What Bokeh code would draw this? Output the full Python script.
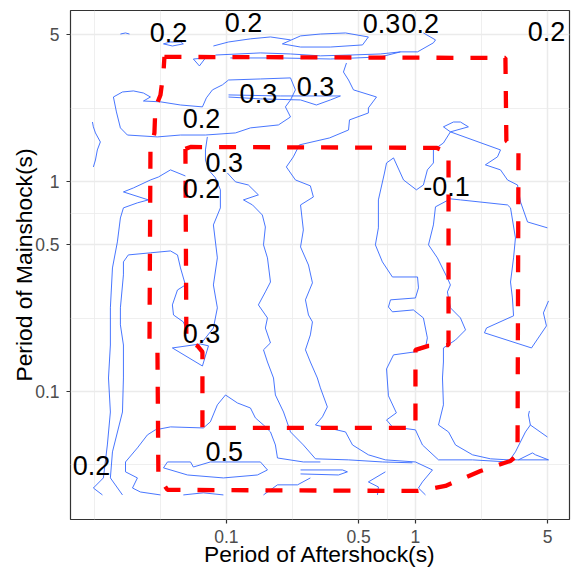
import numpy as np
from bokeh.plotting import figure
from bokeh.models import Range1d, FixedTicker, CustomJSTickFormatter
from bokeh.embed import file_html
from bokeh.resources import INLINE
from bokeh.core.properties import value

# ---------------- axis set-up (log10 of period, s) ----------------
x_lim_log = (-1.825, 0.815)
y_lim_log = (-1.610, 0.814)
tick_values = [0.1, 0.5, 1, 5]

# ---------------- contour lines (log10 T_aftershock, log10 T_mainshock) ----------------
k01_x = [-1.561, -1.534, -1.513]
k01_y = [0.702, 0.707, 0.702]
k02_x = [-1.333, -1.296, -1.243, -1.228, -1.286, -1.333]
k02_y = [0.655, 0.664, 0.664, 0.655, 0.645, 0.655]
k03_x = [-1.175, -1.111, -1.143, -1.175]
k03_y = [0.583, 0.588, 0.550, 0.583]
k04_x = [-1.069, -0.989, -0.873, -0.767, -0.661]
k04_y = [0.645, 0.664, 0.679, 0.688, 0.674]
k05_x = [-0.704, -0.608, -0.503, -0.370, -0.249, -0.280, -0.450, -0.608, -0.704]
k05_y = [0.655, 0.693, 0.702, 0.707, 0.688, 0.650, 0.640, 0.640, 0.655]
k06_x = [-1.058, -0.820, -0.661, -0.503, -0.344, -0.185, -0.079, 0.011, 0.095, 0.106, 0.042]
k06_y = [0.602, 0.612, 0.607, 0.598, 0.602, 0.607, 0.617, 0.617, 0.660, 0.674, 0.707]
k07_x = [-0.979, -0.714, -0.450, -0.185, -0.079]
k07_y = [0.588, 0.588, 0.583, 0.593, 0.617]
k08_x = [-1.598, -1.550, -1.492, -1.439, -1.402, -1.439, -1.349, -1.243, -1.127, -1.106,
         -1.074, -1.021, -0.989, -0.820, -0.661, -0.635, -0.661, -0.688, -0.661, -0.725,
         -0.873, -0.952, -1.111, -1.243, -1.365, -1.524, -1.561, -1.582, -1.598]
k08_y = [0.402, 0.426, 0.431, 0.421, 0.402, 0.383, 0.379, 0.364, 0.355, 0.398,
         0.436, 0.460, 0.483, 0.488, 0.493, 0.436, 0.388, 0.355, 0.307, 0.269,
         0.255, 0.231, 0.221, 0.221, 0.212, 0.221, 0.255, 0.331, 0.402]
k09_x = [-0.989, -0.714, -0.397, -0.450, -0.524, -0.608, -0.820, -0.989]
k09_y = [0.412, 0.407, 0.407, 0.388, 0.364, 0.388, 0.393, 0.402]
k10_x = [-0.365, -0.381, -0.354, -0.328, -0.206, -0.249, -0.249, -0.349, -0.354, -0.455,
         -0.614, -0.646, -0.683, -0.635, -0.556, -0.540, -0.608, -0.593, -0.608, -0.566,
         -0.545, -0.582, -0.566, -0.545, -0.556, -0.582, -0.556, -0.519, -0.503, -0.466,
         -0.492, -0.529, -0.370, -0.333, -0.249, -0.159, 0.000, 0.090, 0.037, 0.016, 0.053]
k10_y = [0.564, 0.521, 0.483, 0.436, 0.402, 0.350, 0.326, 0.293, 0.245, 0.207,
         0.174, 0.117, 0.069, 0.007, -0.021, -0.074, -0.112, -0.231, -0.312, -0.398,
         -0.483, -0.564, -0.636, -0.669, -0.731, -0.802, -0.860, -0.936, -0.983, -1.074,
         -1.121, -1.160, -1.193, -1.255, -1.302, -1.326, -1.336, -1.374, -1.431, -1.460, -1.493]
k11_x = [-0.995, -0.952, -0.884, -0.831, -0.910, -0.862, -0.810, -0.794, -0.804, -0.783,
         -0.767, -0.794, -0.831, -0.783, -0.794, -0.767, -0.804, -0.783, -0.751, -0.741,
         -0.698, -0.661, -0.593, -0.529, -0.354, -0.175, -0.016]
k11_y = [0.040, -0.002, -0.017, -0.064, -0.088, -0.112, -0.160, -0.217, -0.302, -0.364,
         -0.479, -0.526, -0.588, -0.650, -0.698, -0.769, -0.802, -0.860, -0.936, -1.017,
         -1.098, -1.193, -1.255, -1.321, -1.326, -1.336, -1.340]
k12_x = [-1.101, -1.111, -1.111, -1.095, -1.058, -1.032, -1.032, -1.069, -1.048, -1.069,
         -1.048, -1.069, -1.127]
k12_y = [0.212, 0.150, 0.102, 0.055, 0.017, -0.040, -0.126, -0.207, -0.364, -0.493,
         -0.602, -0.698, -0.764]
k13_x = [-1.286, -1.138, -1.095, -1.127, -1.286]
k13_y = [-0.793, -0.774, -0.783, -0.879, -0.793]
k14_x = [-1.217, -1.296, -1.360, -1.402, -1.492, -1.545, -1.413, -1.471, -1.545, -1.561,
         -1.577, -1.603, -1.614, -1.614, -1.624, -1.614, -1.630, -1.651, -1.704, -1.656]
k14_y = [0.026, 0.055, 0.021, 0.007, -0.031, -0.050, -0.088, -0.102, -0.126, -0.174,
         -0.288, -0.412, -0.602, -0.779, -0.936, -1.098, -1.255, -1.412, -1.460, -1.493]
k15_x = [-1.550, -1.614, -1.603, -1.550, -1.545, -1.545, -1.561, -1.561, -1.545, -1.545,
         -1.519, -1.402, -1.296, -1.259, -1.243, -1.217, -1.259, -1.286, -1.280, -1.228, -1.206]
k15_y = [-1.493, -1.412, -1.288, -1.098, -0.936, -0.779, -0.683, -0.602, -0.445, -0.383,
         -0.350, -0.340, -0.331, -0.350, -0.412, -0.493, -0.517, -0.588, -0.636, -0.669, -0.717]
k16_x = [-1.709, -1.704, -1.693, -1.667, -1.683, -1.693, -1.704]
k16_y = [0.283, 0.260, 0.231, 0.188, 0.150, 0.102, 0.069]
k17_x = [0.185, 0.148, 0.201, 0.238, 0.280, 0.185, 0.148, 0.095, 0.095, 0.063,
         0.042, 0.005, -0.063, -0.116, -0.153, -0.164, -0.196, -0.196, -0.212, -0.175,
         -0.122, 0.011, 0.016, 0.000, -0.132, -0.143, -0.122, -0.011, 0.042, 0.063,
         0.053, -0.005, -0.116, -0.153, -0.143, -0.101, -0.153, -0.122, 0.000, 0.037,
         0.122, 0.302, 0.492]
k17_y = [0.236, 0.260, 0.283, 0.283, 0.260, 0.236, 0.183, 0.150, 0.088, 0.055,
         -0.017, -0.040, 0.007, 0.112, 0.088, 0.040, -0.088, -0.221, -0.302, -0.383,
         -0.455, -0.455, -0.507, -0.555, -0.564, -0.598, -0.621, -0.612, -0.650, -0.745,
         -0.793, -0.812, -0.826, -0.893, -1.021, -1.102, -1.136, -1.169, -1.183, -1.255,
         -1.326, -1.326, -1.336]
k18_x = [0.185, 0.450, 0.434, 0.370, 0.450, 0.487, 0.540, 0.556, 0.593, 0.698]
k18_y = [0.236, 0.150, 0.117, 0.079, 0.055, 0.007, -0.017, -0.098, -0.193, -0.221]
k19_x = [0.704, 0.677, 0.693, 0.614, 0.365, 0.376, 0.519, 0.513, 0.503, 0.519,
         0.529, 0.503, 0.487, 0.238, 0.185, 0.106, 0.095, 0.069, 0.116, 0.169,
         0.185, 0.169, 0.185, 0.238, 0.265, 0.212, 0.148, 0.148, 0.143, 0.148,
         0.122, 0.175, 0.212, 0.302, 0.397, 0.492, 0.704]
k19_y = [-0.569, -0.626, -0.688, -0.793, -0.721, -0.698, -0.640, -0.555, -0.479, -0.364,
         -0.269, -0.126, -0.112, -0.088, -0.083, -0.121, -0.207, -0.302, -0.364, -0.460,
         -0.493, -0.526, -0.602, -0.650, -0.707, -0.755, -0.793, -0.860, -0.936, -1.064,
         -1.160, -1.193, -1.255, -1.302, -1.321, -1.326, -1.326]
k20_x = [0.492, 0.529, 0.582, 0.608, 0.698]
k20_y = [-1.336, -1.288, -1.193, -1.160, -1.217]
k21_x = [0.608, 0.598, 0.603]
k21_y = [-1.160, -1.112, -1.093]
k22_x = [0.545, 0.619, 0.635, 0.704]
k22_y = [-1.326, -1.293, -1.302, -1.326]
k23_x = [-1.349, -1.455, -1.497, -1.471, -1.534, -1.534, -1.471, -1.418, -1.376, -1.296,
         -1.122, -1.085, -1.048, -1.005, -0.942, -0.873, -0.847, -0.804, -0.767, -0.741,
         -0.730, -0.593, -0.503]
k23_y = [-1.493, -1.479, -1.460, -1.412, -1.383, -1.336, -1.269, -1.207, -1.183, -1.169,
         -1.174, -1.145, -1.064, -1.017, -1.055, -1.079, -1.126, -1.160, -1.193, -1.255,
         -1.317, -1.336, -1.336]
k24_x = [-1.312, -1.190, -1.175, -1.085, -0.820, -0.783, -0.836, -1.016, -1.206, -1.333, -1.312]
k24_y = [-1.336, -1.336, -1.360, -1.336, -1.336, -1.374, -1.398, -1.412, -1.398, -1.364, -1.336]
k25_x = [-0.608, -0.386, -0.360, -0.407, -0.608]
k25_y = [-1.374, -1.374, -1.383, -1.398, -1.393]
k26_x = [-1.228, -1.122, -1.016]
k26_y = [-1.493, -1.483, -1.493]
k27_x = [-0.804, -0.730, -0.624, -0.556]
k27_y = [-1.493, -1.445, -1.445, -1.412]
k28_x = [-0.159, -0.249, -0.196, -0.201]
k28_y = [-1.383, -1.431, -1.455, -1.493]

# ---------------- dashed outlines ----------------
outer_x = [-1.328, 0.476, 0.481, 0.545, 0.540, 0.503, 0.344, 0.159, 0.079, 0.011,
           -1.312, -1.360, -1.365, -1.407, -1.402, -1.381, -1.376, -1.349, -1.333, -1.328]
outer_y = [0.593, 0.588, 0.193, 0.145, -1.302, -1.331, -1.379, -1.450, -1.464, -1.474,
           -1.469, -1.407, -0.802, -0.760, 0.150, 0.231, 0.350, 0.412, 0.521, 0.593]
inner_x = [-1.217, -1.190, 0.111, 0.175, 0.175, 0.069, 0.000, 0.000, -1.127, -1.127,
           -1.153, -1.212, -1.217]
inner_y = [0.155, 0.164, 0.160, 0.136, -0.779, -0.783, -0.802, -1.174, -1.174, -0.812,
           -0.783, -0.755, 0.155]

# ---------------- contour labels ----------------
label_text = ["0.2", "0.2", "0.3", "0.2", "0.2", "0.3", "0.3", "0.2", "0.3", "0.2",
              "-0.1", "0.3", "0.5", "0.2"]
label_x = [-1.307, -0.910, -0.180, 0.026, 0.693, -0.831, -0.529, -1.132, -1.011, -1.132,
           0.164, -1.132, -1.011, -1.714]
label_y = [0.707, 0.755, 0.750, 0.750, 0.712, 0.421, 0.450, 0.302, 0.088, -0.036,
           -0.026, -0.726, -1.288, -1.355]

contours = [(k01_x, k01_y), (k02_x, k02_y), (k03_x, k03_y), (k04_x, k04_y), (k05_x, k05_y),
            (k06_x, k06_y), (k07_x, k07_y), (k08_x, k08_y), (k09_x, k09_y), (k10_x, k10_y),
            (k11_x, k11_y), (k12_x, k12_y), (k13_x, k13_y), (k14_x, k14_y), (k15_x, k15_y),
            (k16_x, k16_y), (k17_x, k17_y), (k18_x, k18_y), (k19_x, k19_y), (k20_x, k20_y),
            (k21_x, k21_y), (k22_x, k22_y), (k23_x, k23_y), (k24_x, k24_y), (k25_x, k25_y),
            (k26_x, k26_y), (k27_x, k27_y), (k28_x, k28_y)]


def per(v):
    return list(10 ** np.asarray(v, dtype=float))


p = figure(width=572, height=572, x_axis_type="log", y_axis_type="log",
           x_range=Range1d(10 ** x_lim_log[0], 10 ** x_lim_log[1]),
           y_range=Range1d(10 ** y_lim_log[0], 10 ** y_lim_log[1]),
           output_backend="svg", toolbar_location=None,
           min_border_left=70, min_border_right=3, min_border_top=10, min_border_bottom=53)
p.background_fill_color = "white"
p.border_fill_color = "white"
p.outline_line_color = "#333333"
p.outline_line_width = 1.2

# ticks and grid (ggplot-like minor grid halfway between breaks in log space)
lt = np.log10(tick_values)
step = lt[1] - lt[0]
ext = np.concatenate([[lt[0] - step], lt, [lt[-1] + step]])
mids = (ext[:-1] + ext[1:]) / 2
minor = list(10 ** np.concatenate([[ext[0], ext[-1]], mids]))

for ax, grid in ((p.xaxis[0], p.xgrid[0]), (p.yaxis[0], p.ygrid[0])):
    tk = FixedTicker(ticks=tick_values, minor_ticks=minor)
    ax.ticker = tk
    grid.ticker = tk
    ax.formatter = CustomJSTickFormatter(code="return tick.toString();")
    ax.axis_line_color = None
    ax.major_tick_line_color = "#333333"
    ax.major_tick_line_width = 1.2
    ax.major_tick_out = 4
    ax.major_tick_in = 0
    ax.minor_tick_line_color = None
    ax.major_label_text_font = "Liberation Sans"
    ax.major_label_text_font_size = "17.5px"
    ax.major_label_text_color = "#4D4D4D"
    ax.axis_label_text_font = "Liberation Sans"
    ax.axis_label_text_font_size = "22.8px"
    ax.axis_label_text_font_style = "normal"
    ax.axis_label_text_color = "black"
    grid.grid_line_color = "#EBEBEB"
    grid.grid_line_width = 1.5
    grid.minor_grid_line_color = "#EBEBEB"
    grid.minor_grid_line_width = 0.8

p.xaxis.axis_label = "Period of Aftershock(s)"
p.yaxis.axis_label = "Period of Mainshock(s)"
p.xaxis.major_label_standoff = 6
p.xaxis.axis_label_standoff = -5
p.yaxis.major_label_standoff = 7
p.yaxis.axis_label_standoff = -5

p.multi_line([per(cx) for cx, _ in contours], [per(cy) for _, cy in contours],
             line_color="#3366FF", line_width=0.9)

p.line(per(outer_x), per(outer_y), line_color="#FF0000", line_width=4.3, line_dash="17 17")
p.line(per(inner_x), per(inner_y), line_color="#FF0000", line_width=4.3, line_dash="17 17")

p.text(per(label_x), per(label_y), text=label_text, text_align="center", text_baseline="middle",
       text_font=value("Liberation Sans"), text_font_size="27px", text_color="black")

open("out.html", "w").write(file_html(p, INLINE))
